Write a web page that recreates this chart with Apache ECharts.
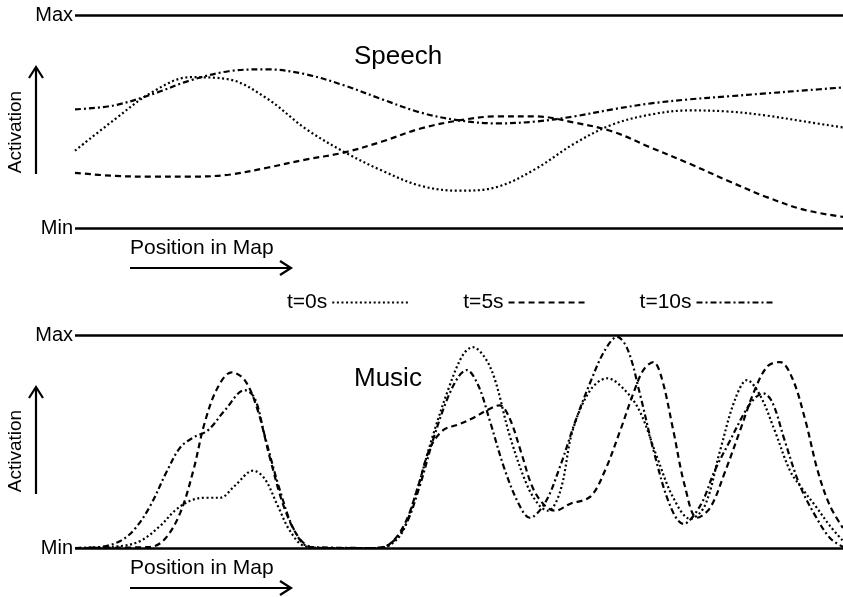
<!DOCTYPE html>
<html>
<head>
<meta charset="utf-8">
<script src="https://cdn.jsdelivr.net/npm/echarts@6/dist/echarts.min.js"></script>
<style>
  html, body { margin: 0; padding: 0; background: #fff; }
  #chart { width: 843px; height: 597px; }
</style>
</head>
<body>
<div id="chart"></div>
<script>
// Activation profiles along the map (position 0-100, activation 0=Min .. 100=Max)
const seriesNames = ['t=0s', 't=5s', 't=10s'];
const levelLabels = { 0: 'Min', 100: 'Max' };

// Speech: three snapshots sampled at shared positions
const speechPos = [0, 5, 10, 15, 20, 25, 30, 35, 40, 45, 50, 55, 60, 65, 70, 75, 80, 85, 90, 95, 100];
const speechT0  = [36.3, 50.5, 63.7, 70.8, 69.8, 60.8, 46.7, 35.8, 26.9, 19.8, 17.5, 19.3, 27.8, 39.6, 48.6, 53.3, 55.2, 54.7, 52.8, 50.0, 47.2];
const speechT5  = [25.9, 24.5, 24.1, 24.1, 25.0, 28.3, 32.1, 35.4, 40.6, 46.7, 50.5, 52.4, 52.4, 49.5, 45.3, 37.7, 30.2, 22.2, 14.6, 8.5, 5.2];
const speechT10 = [55.7, 57.5, 62.7, 69.3, 73.6, 74.5, 72.2, 67.0, 60.4, 54.2, 50.5, 49.1, 50.0, 52.4, 55.7, 58.5, 60.4, 61.8, 63.2, 64.6, 66.0];

// Music: [position, activation] pairs for each snapshot
const musicT0 = [[0,0],[5.9,0.9],[8.5,3.3],[11.1,10.4],[13.0,17.5],[15.0,22.2],[16.9,23.6],[18.9,23.6],[20.8,29.2],[23.2,36.3],
  [24.7,32.5],[26.4,19.8],[28.0,8.0],[29.9,0.9],[33.2,0],[39.1,0],[41.0,1.4],[42.7,8.0],[44.5,26.9],[46.6,52.8],
  [48.8,76.4],[50.5,90.6],[51.8,94.3],[53.4,89.2],[54.7,78.8],[56.6,52.8],[58.9,29.2],[60.5,19.8],[61.6,17.5],[63.2,26.9],
  [64.8,55.2],[67.1,74.1],[69.3,79.7],[71.6,74.1],[73.6,63.7],[75.8,42.5],[77.9,23.6],[80.1,13.7],[82.0,19.8],[84.0,45.8],
  [85.9,69.3],[87.5,78.8],[89.2,71.7],[91.1,55.2],[93.1,36.3],[94.7,27.8],[96.4,19.8],[98.3,10.4],[100,3.3]];
const musicT5 = [[0,0],[9.8,0.5],[11.7,4.2],[13.7,16.5],[15.4,36.3],[16.9,59.0],[18.6,75.5],[20.4,82.5],[22.1,78.8],[23.8,64.6],
  [25.4,42.0],[27.3,18.4],[29.3,4.2],[31.3,0],[39.1,0],[41.0,1.9],[43.0,11.8],[44.7,29.2],[46.2,46.7],[47.9,55.2],
  [49.9,58.0],[51.7,60.8],[53.6,64.6],[55.3,67.0],[56.6,60.8],[58.1,44.8],[59.6,28.3],[61.2,19.8],[62.5,17.5],[64.5,20.8],
  [67.1,24.1],[69.0,36.3],[71.0,55.2],[72.7,72.6],[74.0,83.5],[75.3,87.3],[76.4,79.7],[77.9,55.2],[79.4,29.2],[81.0,14.2],
  [82.7,18.9],[84.6,35.4],[86.6,55.2],[88.5,74.1],[90.2,85.4],[91.8,87.3],[93.4,79.7],[95.1,59.9],[96.7,36.3],[98.3,19.8],[100,9.4]];
const musicT10 = [[0,0],[3.3,0.5],[5.9,3.3],[7.8,9.0],[9.8,19.8],[12.0,36.3],[13.7,47.2],[15.4,51.9],[17.3,55.2],[19.5,64.6],
  [22.1,74.1],[23.4,70.3],[24.7,52.8],[26.7,26.9],[28.6,8.0],[30.6,0.5],[39.1,0],[41.0,1.9],[43.0,10.4],[44.9,29.2],
  [46.6,50.5],[48.4,69.3],[49.9,80.2],[51.0,83.5],[52.5,76.4],[54.0,59.9],[56.0,36.3],[57.9,19.8],[59.2,14.2],[61.2,21.2],
  [63.2,38.7],[65.1,59.0],[67.1,77.8],[69.0,92.9],[70.6,99.1],[72.0,92.9],[73.6,71.7],[75.5,43.4],[77.5,19.8],[79.2,11.3],
  [81.4,19.8],[83.3,36.3],[85.3,50.5],[87.2,63.7],[88.5,70.3],[89.6,72.6],[90.8,68.4],[92.4,50.5],[94.4,29.2],[96.4,15.1],[98.3,4.7],[100,0.5]];

const FONT = '"Liberation Sans", Arial, Helvetica, sans-serif';
const dashPatterns = [[2, 2.6], [6, 4], [6, 3, 2, 3]];

const chart = echarts.init(document.getElementById('chart'), null, { renderer: 'canvas' });

function zip(xs, ys) { return xs.map((x, i) => [x, ys[i]]); }

function makeSeries(name, idx, gridIdx, data) {
  return {
    name: name,
    type: 'line',
    xAxisIndex: gridIdx,
    yAxisIndex: gridIdx,
    data: data,
    smooth: 0.35,
    symbol: 'none',
    clip: true,
    lineStyle: { color: '#000', width: 2.2, type: dashPatterns[idx] },
    itemStyle: { color: '#000' },
    emphasis: { disabled: true },
    silent: true
  };
}

const yAxisBase = (gi) => ({
  gridIndex: gi, type: 'value', min: 0, max: 100, interval: 100,
  axisLine: { show: false }, axisTick: { show: false },
  axisLabel: { formatter: v => levelLabels[v] || '', color: '#000', fontSize: 20, fontFamily: FONT, margin: 2 },
  splitLine: { show: true, lineStyle: { color: '#000', width: 2.6 } }
});
const xAxisBase = (gi) => ({ gridIndex: gi, type: 'value', min: 0, max: 100, show: false });

// Arrows for the axis annotations
function arrowGraphics(xUp, yBottom, yTop, xLeft, xRight, yArrow) {
  const s = { stroke: '#000', lineWidth: 2.2, fill: null };
  return [
    { type: 'line', shape: { x1: xUp, y1: yBottom, x2: xUp, y2: yTop + 1 }, style: s, silent: true },
    { type: 'polyline', shape: { points: [[xUp - 7, yTop + 11], [xUp, yTop], [xUp + 7, yTop + 11]] }, style: s, silent: true },
    { type: 'line', shape: { x1: xLeft, y1: yArrow, x2: xRight - 1, y2: yArrow }, style: s, silent: true },
    { type: 'polyline', shape: { points: [[xRight - 11, yArrow - 7], [xRight, yArrow], [xRight - 11, yArrow + 7]] }, style: s, silent: true }
  ];
}
function textGraphics(actY, posY) {
  return [
    { type: 'text', x: 16, y: actY, rotation: Math.PI / 2, silent: true,
      style: { text: 'Activation', font: '19px ' + FONT, fill: '#000', align: 'center', verticalAlign: 'middle' } },
    { type: 'text', x: 130, y: posY, silent: true,
      style: { text: 'Position in Map', font: '21px ' + FONT, fill: '#000', align: 'left', verticalAlign: 'middle' } }
  ];
}

const option = {
  backgroundColor: '#fff',
  animation: false,
  title: [
    { text: 'Speech', left: 354, top: 44, padding: 0, textStyle: { fontSize: 26, fontWeight: 'normal', color: '#000', fontFamily: FONT } },
    { text: 'Music', left: 354, top: 366, padding: 0, textStyle: { fontSize: 26, fontWeight: 'normal', color: '#000', fontFamily: FONT } }
  ],
  legend: {
    data: seriesNames,
    left: 287, top: 292,
    align: 'right',
    itemWidth: 77, itemHeight: 14, itemGap: 53,
    selectedMode: false,
    itemStyle: { opacity: 0 },
    textStyle: { color: '#000', fontSize: 21, fontFamily: FONT },
    padding: 0
  },
  grid: [
    { left: 75, right: 0, top: 15, height: 213 },
    { left: 75, right: 0, top: 335, height: 213 }
  ],
  xAxis: [xAxisBase(0), xAxisBase(1)],
  yAxis: [yAxisBase(0), yAxisBase(1)],
  series: [
    makeSeries(seriesNames[0], 0, 0, zip(speechPos, speechT0)),
    makeSeries(seriesNames[1], 1, 0, zip(speechPos, speechT5)),
    makeSeries(seriesNames[2], 2, 0, zip(speechPos, speechT10)),
    makeSeries(seriesNames[0], 0, 1, musicT0),
    makeSeries(seriesNames[1], 1, 1, musicT5),
    makeSeries(seriesNames[2], 2, 1, musicT10)
  ],
  graphic: [].concat(
    arrowGraphics(36, 174, 67, 130, 291, 268),
    arrowGraphics(36, 494, 387, 130, 291, 588),
    textGraphics(132, 248),
    textGraphics(451, 568)
  )
};

chart.setOption(option);
</script>
</body>
</html>
